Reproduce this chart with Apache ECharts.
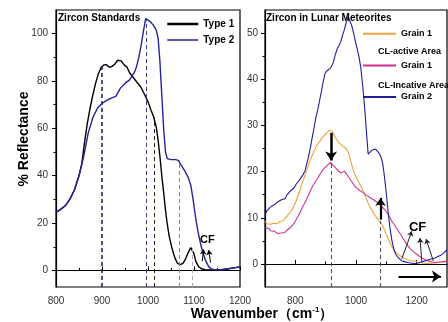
<!DOCTYPE html>
<html>
<head>
<meta charset="utf-8">
<script src="https://cdn.jsdelivr.net/npm/echarts@6/dist/echarts.min.js"></script>
<style>
  html, body { margin: 0; padding: 0; background: #fff; }
  #chart { width: 448px; height: 322px; }
</style>
</head>
<body>
<div id="chart"></div>
<script>
// ---- left panel: zircon standards ----
const type1Wn = [800, 810, 820, 830, 840, 850, 856, 862, 868, 874, 880, 886, 892, 898, 904, 910, 916, 922, 928, 934, 938, 942, 948, 954, 960, 968, 976, 984, 992, 1000, 1006, 1012, 1018, 1022, 1026, 1030, 1034, 1038, 1042, 1046, 1052, 1058, 1064, 1070, 1076, 1082, 1088, 1093, 1097, 1100, 1104, 1110, 1116, 1124, 1130, 1145, 1160, 1175, 1190, 1200]
const type1R = [24.5, 25.8, 27.3, 30, 34, 40, 45, 54, 62, 68.5, 74, 79, 83, 85.7, 86.8, 86.9, 85.8, 86.2, 87.2, 88.8, 89.6, 88.5, 86.8, 86, 83.5, 81.5, 79.5, 77.6, 74.5, 71.2, 68, 65, 60.5, 55, 48, 40, 33, 25.5, 19.5, 14.5, 9.5, 5.5, 3, 2.4, 3, 5, 7.8, 9.6, 9.4, 7, 3.8, 1.6, 0.7, 0.3, 0.2, 0.3, 0.3, 0.7, 1.2, 1.5]

const type2Wn = [800, 810, 820, 830, 840, 850, 860, 870, 880, 890, 900, 910, 920, 930, 940, 950, 960, 970, 975, 980, 985, 990, 995, 1000, 1005, 1012, 1018, 1022, 1026, 1030, 1034, 1038, 1042, 1050, 1060, 1066, 1072, 1080, 1088, 1093, 1098, 1103, 1108, 1114, 1120, 1126, 1132, 1138, 1145, 1160, 1175, 1190, 1200]
const type2R = [24.5, 25.8, 27.3, 30, 34, 40, 48, 58, 64.5, 68.5, 70.5, 71.8, 72.8, 73.5, 77, 79, 80.5, 83.5, 86, 90, 95, 101, 106.4, 105.8, 105, 103.5, 101.5, 98, 88, 74, 60, 50, 47.2, 46.8, 46.8, 46.5, 44.5, 42, 39, 36, 30, 23, 17, 11.5, 7, 3.8, 1.6, 0.6, 0.3, 0.3, 0.7, 1.2, 1.5]

// dashed guide lines: [wavenumber, top value, colour]
const leftGuides = [[900, 86, "#1c237a"], [996, 106, "#3b3f8f"], [1013, 64.5, "#222"], [1067, 46.5, "#7b80a8"], [1096, 9.6, "#aaa"]]
const leftCfArrows = [[[1118, 3.9], [1121, 8.9]], [[1136, 3.3], [1132, 8.6]]]

// ---- right panel: lunar meteorites ----
const rightWn = [700, 706, 712, 718, 724, 730, 736, 742, 748, 754, 760, 766, 772, 778, 784, 790, 796, 802, 808, 814, 820, 826, 832, 838, 844, 850, 856, 862, 868, 874, 880, 886, 892, 898, 904, 910, 916, 920, 926, 932, 938, 944, 950, 956, 962, 968, 974, 980, 986, 992, 998, 1004, 1010, 1016, 1022, 1028, 1034, 1040, 1046, 1052, 1058, 1064, 1070, 1076, 1082, 1088, 1094, 1100, 1106, 1112, 1118, 1124, 1130, 1136, 1142, 1150, 1160, 1170, 1180, 1190, 1200, 1210, 1220, 1230, 1240, 1250, 1260, 1270, 1280, 1290, 1300]
const grain1Active = [9.2, 8.7, 9.0, 8.6, 8.9, 8.8, 9.1, 8.7, 9.2, 9.4, 9.3, 9.8, 10.3, 10.6, 11.3, 11.8, 12.6, 13.5, 14.6, 15.8, 17.0, 18.1, 19.2, 20.3, 21.6, 22.6, 23.6, 24.4, 25.3, 26.0, 26.5, 27.1, 27.6, 28.0, 28.4, 28.9, 29.1, 28.8, 28.2, 27.3, 26.8, 26.2, 25.9, 25.5, 25.3, 25.0, 24.2, 22.9, 21.4, 20.1, 19.2, 18.3, 17.6, 16.8, 16.0, 15.2, 14.2, 13.2, 12.3, 11.7, 11.0, 10.4, 9.9, 9.5, 8.9, 8.2, 7.4, 6.4, 5.5, 4.6, 3.8, 3.1, 2.6, 2.2, 1.9, 1.6, 1.2, 0.9, 0.7, 0.6, 0.5, 0.3, 0.2, 0.1, 0.1, 0.2, 0.2, 0.3, 0.4, 0.5, 0.6]
const grain1Inactive = [7.8, 7.4, 7.7, 7.2, 7.5, 7.1, 7.0, 6.6, 6.9, 6.7, 7.0, 6.8, 7.3, 7.6, 7.9, 8.2, 8.8, 9.5, 10.2, 11.0, 11.8, 12.6, 13.3, 14.1, 15.0, 15.9, 16.7, 17.4, 18.0, 18.6, 19.3, 19.9, 20.5, 20.9, 21.3, 21.7, 22.0, 21.9, 21.3, 20.9, 20.4, 20.0, 19.7, 19.9, 20.1, 19.7, 19.0, 18.4, 17.8, 17.2, 16.7, 16.3, 16.0, 15.8, 15.5, 15.2, 14.9, 14.7, 14.4, 14.2, 13.9, 13.7, 13.3, 12.9, 12.6, 12.2, 11.8, 11.3, 10.7, 10.0, 9.3, 8.7, 8.1, 7.5, 6.9, 6.1, 5.0, 4.0, 3.2, 2.6, 2.1, 1.6, 1.2, 0.9, 0.6, 0.4, 0.3, 0.4, 0.4, 0.5, 0.6]
const grain2 = [10.5, 11.5, 11.2, 12.3, 12.0, 12.8, 12.6, 13.4, 13.2, 13.9, 14.2, 14.1, 14.9, 15.1, 15.8, 15.9, 16.5, 17.2, 17.4, 18.2, 18.6, 19.4, 20.2, 21.8, 23.4, 25.3, 27.5, 29.6, 31.8, 33.4, 35.4, 37.4, 39.5, 41.3, 41.8, 41.6, 42.4, 42.9, 43.8, 45.4, 46.6, 47.3, 48.2, 49.6, 50.8, 52.4, 53.6, 53.2, 51.6, 50.0, 48.2, 46.6, 44.8, 42.4, 38.6, 34.4, 29.0, 23.8, 24.1, 24.6, 25.0, 24.9, 24.6, 24.0, 23.2, 21.8, 18.8, 15.2, 11.2, 7.8, 5.2, 3.4, 2.2, 1.6, 1.2, 0.7, 0.5, 0.3, 0.2, 0.1, 0.1, 0.3, 0.5, 0.7, 0.9, 1.1, 1.3, 1.6, 1.9, 2.4, 3.1]

const rightGuides = [[918, 22], [1081, 9.3]]
const rightCfArrows = [[[1151, 1.1], [1184, 7.1]], [[1217, 0.6], [1211, 5.6]], [[1255, 0.6], [1231, 5.4]]]

const FONT = "Liberation Sans, Arial, sans-serif"

const pairs = (xs, ys) => xs.map((x, i) => [x, ys[i]])

const chart = echarts.init(document.getElementById("chart"), null, { renderer: "canvas" })

const tickStyle = { color: "#000", width: 1 }
const labelStyle = { color: "#333", fontSize: 10, fontFamily: FONT, formatter: (v) => String(v) }

// a solid arrow from a to b, head drawn at b
const arrow = (a, b, width, head, color) => [
  { coord: a, symbol: "none", lineStyle: { color: color, width: width, type: "solid" } },
  { coord: b, symbol: "arrow", symbolSize: head },
]

const option = {
  animation: false,
  backgroundColor: "#fff",
  title: [
    { text: "Zircon Standards", left: 58, top: 13, padding: 0,
      textStyle: { fontSize: 10, fontWeight: "bold", color: "#000", fontFamily: FONT } },
    { text: "Zircon in Lunar Meteorites", left: 266, top: 13, padding: 0,
      textStyle: { fontSize: 10, fontWeight: "bold", color: "#000", fontFamily: FONT } },
  ],
  legend: [
    {
      orient: "vertical", left: 166, top: 19, padding: 0,
      itemWidth: 31, itemHeight: 12, itemGap: 6,
      itemStyle: { opacity: 0 },
      data: [
        { name: "Type 1", lineStyle: { width: 2.5 } },
        { name: "Type 2", lineStyle: { width: 1.5 } },
      ],
      textStyle: { fontSize: 10, fontWeight: "bold", color: "#000", fontFamily: FONT },
    },
    {
      orient: "vertical", left: 362, top: 29, padding: 0,
      itemWidth: 33, itemHeight: 12, itemGap: 22,
      itemStyle: { opacity: 0 },
      data: ["Grain 1 (active)", "Grain 1 (inactive)", "Grain 2"],
      formatter: (name) => name.replace(/ \(.*\)/, ""),
      textStyle: { fontSize: 9, fontWeight: "bold", color: "#000", fontFamily: FONT },
    },
  ],
  grid: [
    { left: 56, top: 10, width: 184, height: 277, show: true, borderColor: "#000", borderWidth: 1.2, outerBoundsMode: "none" },
    { left: 265, top: 10, width: 182, height: 277, show: true, borderColor: "#000", borderWidth: 1.2, outerBoundsMode: "none" },
  ],
  xAxis: [
    {
      gridIndex: 0, type: "value", position: "bottom", min: 800, max: 1200, interval: 100,
      axisLine: { show: true, lineStyle: { color: "#000", width: 1.2 } },
      axisTick: { show: true, inside: true, length: 4, lineStyle: tickStyle },
      minorTick: { show: true, splitNumber: 2, length: 2.5, lineStyle: tickStyle },
      splitLine: { show: false },
      axisLabel: { ...labelStyle, margin: 9 },
    },
    {
      gridIndex: 1, type: "value", position: "bottom", min: 700, max: 1300,
      axisLine: { show: true, lineStyle: { color: "#000", width: 1.2 } },
      axisTick: { show: true, inside: true, length: 4, lineStyle: tickStyle, customValues: [800, 1000, 1200] },
      splitLine: { show: false },
      axisLabel: { ...labelStyle, margin: 9, customValues: [800, 1000, 1200] },
    },
    {
      gridIndex: 1, type: "value", position: "bottom", min: 700, max: 1300,
      axisLine: { show: false },
      axisTick: { show: true, inside: true, length: 2.5, lineStyle: tickStyle, customValues: [900, 1100] },
      splitLine: { show: false },
      axisLabel: { show: false },
    },
  ],
  yAxis: [
    {
      gridIndex: 0, type: "value", position: "left", min: -7, max: 110,
      axisLine: { show: true, lineStyle: { color: "#000", width: 1.2 } },
      axisTick: { show: true, length: 4, lineStyle: tickStyle, customValues: [0, 20, 40, 60, 80, 100] },
      splitLine: { show: false },
      axisLabel: { ...labelStyle, margin: 8, customValues: [0, 20, 40, 60, 80, 100] },
    },
    {
      gridIndex: 1, type: "value", position: "left", min: -5, max: 55,
      axisLine: { show: true, lineStyle: { color: "#000", width: 1.2 } },
      axisTick: { show: true, length: 4, lineStyle: tickStyle, customValues: [0, 10, 20, 30, 40, 50] },
      splitLine: { show: false },
      axisLabel: { ...labelStyle, margin: 7, customValues: [0, 10, 20, 30, 40, 50] },
    },
    {
      gridIndex: 0, type: "value", position: "left", min: -7, max: 110,
      axisLine: { show: false },
      axisTick: { show: true, length: 2.5, lineStyle: tickStyle, customValues: [10, 30, 50, 70, 90] },
      splitLine: { show: false },
      axisLabel: { show: false },
    },
    {
      gridIndex: 1, type: "value", position: "left", min: -5, max: 55,
      axisLine: { show: false },
      axisTick: { show: true, length: 2.5, lineStyle: tickStyle, customValues: [5, 15, 25, 35, 45] },
      splitLine: { show: false },
      axisLabel: { show: false },
    },
  ],
  series: [
    {
      name: "Type 1", type: "line", xAxisIndex: 0, yAxisIndex: 0,
      data: pairs(type1Wn, type1R), symbol: "none", showSymbol: false,
      color: "#000", lineStyle: { color: "#000", width: 1.4 },
      markLine: {
        silent: true, symbol: "none", label: { show: false },
        data: leftGuides.map(([x, top, c]) => [
          { coord: [x, -7], lineStyle: { color: c, type: [4, 3], width: x === 900 ? 1.6 : 1 } },
          { coord: [x, top] },
        ]),
      },
    },
    {
      name: "Type 2", type: "line", xAxisIndex: 0, yAxisIndex: 0,
      data: pairs(type2Wn, type2R), symbol: "none", showSymbol: false,
      color: "#23239a", lineStyle: { color: "#23239a", width: 1.4 },
      markLine: {
        silent: true, label: { show: false },
        data: leftCfArrows.map(([a, b]) => arrow(a, b, 1, 5, "#000")),
      },
      markPoint: {
        silent: true, symbol: "circle", symbolSize: 1, itemStyle: { color: "rgba(0,0,0,0)" },
        label: { show: true, position: "inside", formatter: "CF", fontSize: 11, fontWeight: "bold", color: "#000", fontFamily: FONT },
        data: [{ coord: [1129, 13] }],
      },
    },
    {
      name: "Grain 1 (active)", type: "line", xAxisIndex: 1, yAxisIndex: 1,
      data: pairs(rightWn, grain1Active), symbol: "none", showSymbol: false,
      color: "#eea33a", lineStyle: { color: "#eea33a", width: 1.1 },
    },
    {
      name: "Grain 1 (inactive)", type: "line", xAxisIndex: 1, yAxisIndex: 1,
      data: pairs(rightWn, grain1Inactive), symbol: "none", showSymbol: false,
      color: "#d0338f", lineStyle: { color: "#d0338f", width: 1.1 },
      markLine: {
        silent: true, symbol: "none", label: { show: false },
        data: rightGuides.map(([x, top]) => [
          { coord: [x, -5], lineStyle: { color: "#555", type: [4, 3], width: 1.1 } },
          { coord: [x, top] },
        ]),
      },
    },
    {
      name: "Grain 2", type: "line", xAxisIndex: 1, yAxisIndex: 1,
      data: pairs(rightWn, grain2), symbol: "none", showSymbol: false,
      color: "#1f1fa0", lineStyle: { color: "#1f1fa0", width: 1.1 },
      markLine: {
        silent: true, label: { show: false },
        data: [
          arrow([918, 28.4], [918, 22.4], 2.5, 9, "#000"),
          arrow([1081, 9.6], [1081, 14.3], 2.2, 8, "#000"),
          arrow([1140, -2.7], [1280, -2.7], 2.2, 9, "#000"),
        ].concat(rightCfArrows.map(([a, b]) => arrow(a, b, 1, 5, "#222"))),
      },
      markPoint: {
        silent: true, symbol: "circle", symbolSize: 1, itemStyle: { color: "rgba(0,0,0,0)" },
        label: { show: true, position: "inside", formatter: "CF", fontSize: 13, fontWeight: "bold", color: "#000", fontFamily: FONT },
        data: [{ coord: [1203, 8] }],
      },
    },
  ],
  graphic: [
    { type: "text", left: 378, top: 47, silent: true,
      style: { text: "CL-active Area", fontSize: 9, fontWeight: "bold", fill: "#000", fontFamily: FONT } },
    { type: "text", left: 378, top: 81, silent: true,
      style: { text: "CL-Incative Area", fontSize: 9, fontWeight: "bold", fill: "#000", fontFamily: FONT } },
    { type: "text", x: 24, y: 139, rotation: Math.PI / 2, silent: true,
      style: { text: "% Reflectance", fontSize: 14, fontWeight: "bold", fill: "#000", fontFamily: FONT,
        align: "center", verticalAlign: "middle" } },
    { type: "text", x: 262, y: 314, silent: true,
      style: {
        text: "Wavenumber（cm{sup|-1}）", fontSize: 14, fontWeight: "bold", fill: "#000", fontFamily: FONT,
        align: "center", verticalAlign: "middle",
        rich: { sup: { fontSize: 8, fontWeight: "bold", fill: "#000", fontFamily: FONT, padding: [0, 0, 8, 0] } },
      } },
  ],
}

chart.setOption(option)
</script>
</body>
</html>
